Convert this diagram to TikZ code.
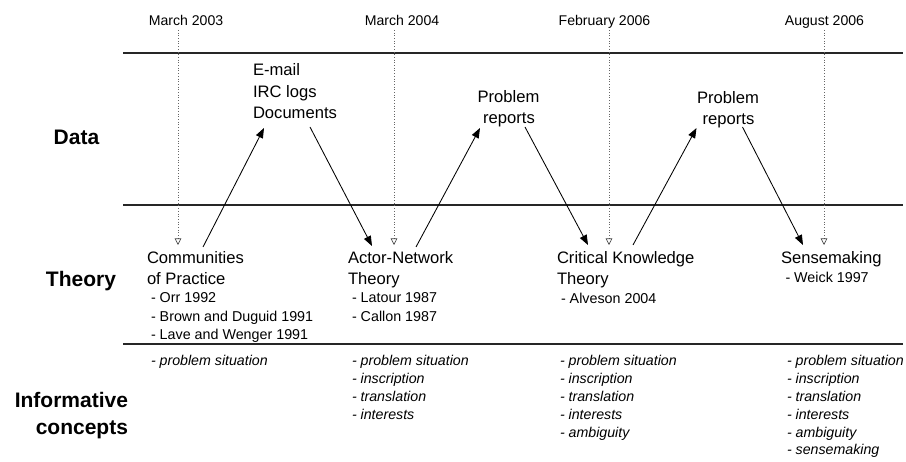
\documentclass[tikz,border=0pt]{standalone}
\usepackage{fontspec}
\setmainfont{Liberation Sans}
\usetikzlibrary{arrows.meta}

\newcommand{\datefnt}{\fontsize{14.1}{17}\selectfont}
\newcommand{\mainfnt}{\fontsize{16.6}{20}\selectfont}
\newcommand{\reffnt}{\fontsize{14.3}{17}\selectfont}
\newcommand{\rowfnt}{\fontsize{21}{25}\selectfont\bfseries}
\newcommand{\conceptfnt}{\fontsize{14.2}{17}\selectfont\itshape}

\begin{document}
\begin{tikzpicture}[x=1pt,y=-1pt,
  txt/.style={inner sep=0pt, outer sep=0pt},
  datelbl/.style={txt, anchor=base, font=\datefnt},
  rowlbl/.style={txt, font=\rowfnt},
  item/.style={txt, anchor=base west, font=\mainfnt},
  itemc/.style={txt, anchor=base, font=\mainfnt},
  ref/.style={txt, anchor=base west, font=\reffnt},
  concept/.style={txt, anchor=base west, font=\conceptfnt},
  rule/.style={draw=black!85, line width=1.2pt},
  timeline/.style={draw=black!60, line width=0.65pt, dash pattern=on 1pt off 1.7pt,
    -{Triangle[open, length=6.5pt, width=6.5pt, line width=0.6pt, color=black!75]}},
  flow/.style={draw=black, line width=0.85pt, -{Triangle[length=10pt, width=7.5pt]}}
]
\useasboundingbox (0,0) rectangle (906,462);

% row separators
\draw[rule] (123,53) -- (903,53);
\draw[rule] (123,205) -- (903,205);
\draw[rule] (123,344) -- (903,344);

% dates and their time markers
\node[datelbl] (dt1) at (186,26) {March 2003};
\node[datelbl] (dt2) at (402,26) {March 2004};
\node[datelbl] (dt3) at (604.5,26) {February 2006};
\node[datelbl] (dt4) at (824.5,26) {August 2006};
\coordinate (m1) at (178,30);  \coordinate (m1e) at (178,245);
\coordinate (m2) at (394,30);  \coordinate (m2e) at (394,245);
\coordinate (m3) at (609,30);  \coordinate (m3e) at (609,245);
\coordinate (m4) at (824,30);  \coordinate (m4e) at (824,245);
\draw[timeline] (m1) -- (m1e);
\draw[timeline] (m2) -- (m2e);
\draw[timeline] (m3) -- (m3e);
\draw[timeline] (m4) -- (m4e);

% row labels
\node[rowlbl, anchor=base] (rData) at (76.5,145) {Data};
\node[rowlbl, anchor=base] (rTheory) at (81,287) {Theory};
\node[rowlbl, anchor=base east] (rInfo1) at (128,408) {Informative};
\node[rowlbl, anchor=base east] (rInfo2) at (128,435) {concepts};

% data sources
\node[item] (d1a) at (253,76) {E-mail};
\node[item] (d1b) at (253,97.5) {IRC logs};
\node[item] (d1c) at (253,119) {Documents};
\node[itemc] (p1a) at (508.5,103) {Problem};
\node[itemc] (p1b) at (509,124) {reports};
\node[itemc] (p2a) at (728,104) {Problem};
\node[itemc] (p2b) at (728.5,125) {reports};

% theories and their references
\node[item] (c1a) at (147,264) {Communities};
\node[item] (c1b) at (147,285) {of Practice};
\node[ref] (c1r1) at (151,303) {- Orr 1992};
\node[ref] (c1r2) at (151,321.5) {- Brown and Duguid 1991};
\node[ref] (c1r3) at (151,340) {- Lave and Wenger 1991};

\node[item] (a1a) at (348,264) {Actor-Network};
\node[item] (a1b) at (348,285) {Theory};
\node[ref] (a1r1) at (352,303) {- Latour 1987};
\node[ref] (a1r2) at (352,321.5) {- Callon 1987};

\node[item] (k1a) at (557,264) {Critical Knowledge};
\node[item] (k1b) at (557,285) {Theory};
\node[ref] (k1r1) at (561,303.5) {- Alveson 2004};

\node[item] (s1a) at (781,264) {Sensemaking};
\node[ref] (s1r1) at (785.5,283) {- Weick 1997};

% informative concepts per phase
\node[concept] (ic1-1) at (151,366) {- problem situation};
\foreach \t [count=\i] in {problem situation, inscription, translation, interests}
  \node[concept] (ic2-\i) at (352,366+17.8*\i-17.8) {- \t};
\foreach \t [count=\i] in {problem situation, inscription, translation, interests, ambiguity}
  \node[concept] (ic3-\i) at (560,366+17.8*\i-17.8) {- \t};
\foreach \t [count=\i] in {problem situation, inscription, translation, interests, ambiguity, sensemaking}
  \node[concept] (ic4-\i) at (787,366+17.8*\i-17.8) {- \t};

% movement between theory and data
\draw[flow] ([shift={(56,-17)}]c1a.base west) -- ([shift={(11,9)}]d1c.base west);
\draw[flow] ([shift={(57,8)}]d1c.base west) -- ([shift={(24,-18)}]a1a.base west);
\draw[flow] ([shift={(68,-17)}]a1a.base west) -- ([shift={(-29,4)}]p1b.base);
\draw[flow] ([shift={(16,3)}]p1b.base) -- ([shift={(31,-19)}]k1a.base west);
\draw[flow] ([shift={(76,-19)}]k1a.base west) -- ([shift={(-32,3)}]p2b.base);
\draw[flow] ([shift={(14,2)}]p2b.base) -- ([shift={(22,-19)}]s1a.base west);
\end{tikzpicture}
\end{document}
